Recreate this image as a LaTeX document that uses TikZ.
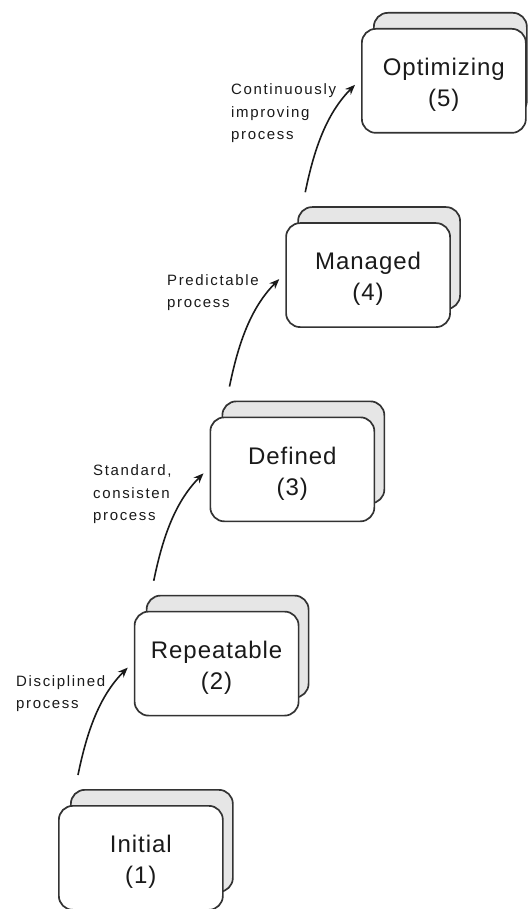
\documentclass[tikz,border=0pt]{standalone}
\usepackage{fontspec}
\newfontfamily\boxfont[LetterSpace=4]{Liberation Sans}
\newfontfamily\lblfont[LetterSpace=11]{Liberation Sans}
\usetikzlibrary{calc,arrows.meta}
\definecolor{edge}{HTML}{333333}
\definecolor{backfill}{HTML}{E6E6E6}
\definecolor{ink}{HTML}{1A1A1A}
\begin{document}
\begin{tikzpicture}[x=1pt,y=-1pt,
  frontbox/.style={draw=edge, line width=1.7pt, fill=white, rounded corners=14pt,
    minimum width=164pt, minimum height=104pt, inner sep=0pt, anchor=north west},
  backbox/.style={draw=edge, line width=1.7pt, fill=backfill, rounded corners=14pt,
    minimum width=162pt, minimum height=102pt, inner sep=0pt, anchor=north west},
  boxtext/.style={font=\boxfont\fontsize{24}{31}\selectfont, text=ink, align=center, inner sep=0pt},
  lbl/.style={font=\lblfont\fontsize{15}{22.5}\selectfont, text=ink, align=left, inner sep=0pt, anchor=west},
  flow/.style={draw=ink, line width=1.6pt, -{Stealth[length=10pt,width=8pt]}}]
\useasboundingbox (0,0) rectangle (527,909);
\fill[white] (0,0) rectangle (527,909);
\foreach \i/\fx/\fy/\nm/\bw in {1/58/805/Initial/162, 2/133.75/610.75/Repeatable/162, 3/209.5/416.5/Defined/162, 4/285.25/222.25/Managed/162, 5/361/28/Optimizing/153}{
  \node[backbox, minimum width=\bw pt] (k\i) at (\fx+12,\fy-16) {};
  \node[frontbox] (b\i) at (\fx,\fy) {};
  \node[boxtext] (t\i) at ($(b\i.center)+(0,4)$) {\nm\\(\i)};
}
\foreach \i/\j in {1/2, 2/3, 3/4, 4/5}{
  \coordinate (s\i) at ($(b\i.north west)+(20,-30)$);
  \coordinate (e\i) at ($(b\j.west)+(-6,4)$);
  \draw[flow] (s\i) .. controls +(8,-39) and +(-30,30) .. (e\i);
}
\node[lbl] (l4) at (231,113.5) {Continuously\\improving\\process};
\node[lbl] (l3) at (167,292.5) {Predictable\\process};
\node[lbl] (l2) at (93,494.5) {Standard,\\consisten\\process};
\node[lbl] (l1) at (16,693.5) {Disciplined\\process};
\end{tikzpicture}
\end{document}
